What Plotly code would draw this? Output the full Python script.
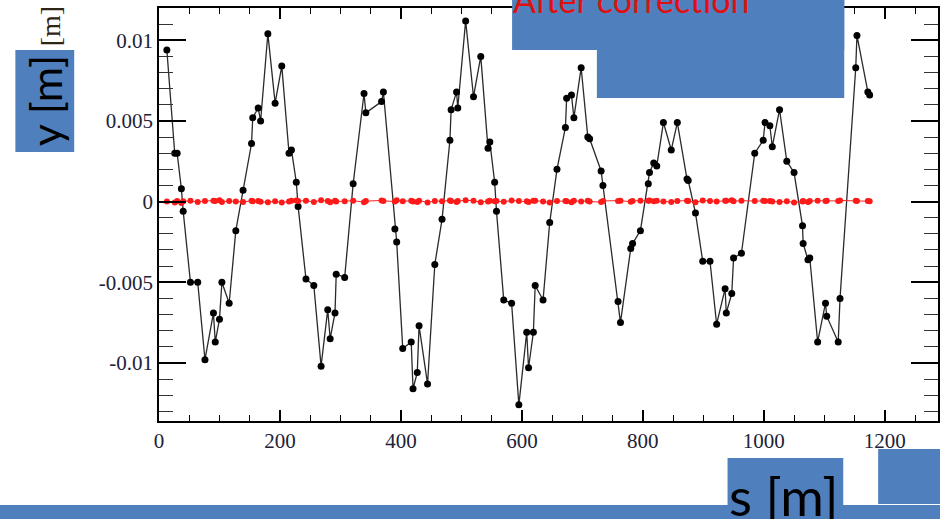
import plotly.graph_objects as go

# BPM positions along the ring [m]
s_pos = [13, 26, 30, 37, 40, 52, 64, 76, 90, 93,
         100, 104, 116, 127, 139, 153, 155, 164, 168, 180,
         192, 203, 215, 219, 227, 230, 243, 256, 268, 279,
         283, 291, 293, 307, 321, 339, 342, 368, 371, 390,
         393, 403, 417, 420, 427, 430, 444, 456, 468, 481,
         483, 492, 494, 507, 520, 532, 544, 547, 555, 558,
         570, 583, 595, 608, 611, 619, 622, 635, 646, 658,
         672, 674, 682, 686, 698, 709, 712, 731, 734, 759,
         763, 780, 783, 796, 809, 811, 818, 823, 834, 847,
         857, 873, 875, 887, 899, 911, 922, 936, 938, 947,
         950, 963, 985, 999, 1002, 1010, 1014, 1026, 1038, 1050,
         1064, 1065, 1073, 1076, 1089, 1102, 1104, 1123, 1126, 1152,
         1154, 1172, 1175]

# vertical orbit before correction [m]
y_before = [0.0094, 0.0030, 0.0030, 0.0008, -0.0006, -0.0050, -0.0050, -0.0098, -0.0069, -0.0087,
            -0.0073, -0.0050, -0.0063, -0.0018, 0.0007, 0.0036, 0.0052, 0.0058, 0.0050, 0.0104,
            0.0061, 0.0084, 0.0030, 0.0032, 0.0012, -0.0003, -0.0048, -0.0052, -0.0102, -0.0067,
            -0.0085, -0.0069, -0.0045, -0.0047, 0.0011, 0.0067, 0.0055, 0.0062, 0.0068, -0.0017,
            -0.0025, -0.0091, -0.0087, -0.0116, -0.0106, -0.0077, -0.0113, -0.0039, -0.0011, 0.0038,
            0.0057, 0.0068, 0.0058, 0.0112, 0.0065, 0.0090, 0.0033, 0.0037, 0.0012, -0.0006,
            -0.0061, -0.0063, -0.0126, -0.0081, -0.0103, -0.0081, -0.0052, -0.0061, -0.0013, 0.0020,
            0.0046, 0.0064, 0.0066, 0.0052, 0.0083, 0.0040, 0.0039, 0.0019, 0.0010, -0.0062,
            -0.0075, -0.0029, -0.0026, -0.0018, 0.0011, 0.0018, 0.0024, 0.0022, 0.0049, 0.0032,
            0.0049, 0.0014, 0.0013, -0.0007, -0.0037, -0.0037, -0.0076, -0.0054, -0.0069, -0.0057,
            -0.0035, -0.0032, 0.0030, 0.0038, 0.0049, 0.0047, 0.0034, 0.0057, 0.0025, 0.0018,
            -0.0015, -0.0026, -0.0036, -0.0035, -0.0087, -0.0063, -0.0071, -0.0087, -0.0060, 0.0083,
            0.0103, 0.0068, 0.0066]

# vertical orbit after correction [m]
y_after = [0.00000, -0.00005, 0.00003, -0.00008, 0.00002, 0.00005, -0.00002, 0.00004, 0.00006, 0.00003,
           0.00008, -0.00002, 0.00004, 0.00000, -0.00003, 0.00006, 0.00002, 0.00004, -0.00001, -0.00004,
           0.00002, -0.00006, 0.00000, 0.00005, 0.00007, 0.00003, 0.00006, -0.00002, 0.00008, 0.00003,
           -0.00004, 0.00005, 0.00001, 0.00002, 0.00006, -0.00004, 0.00003, 0.00007, 0.00004, 0.00001,
           0.00009, 0.00002, 0.00005, 0.00000, -0.00003, 0.00006, -0.00005, 0.00004, 0.00002, 0.00007,
           0.00004, -0.00002, 0.00003, 0.00008, 0.00005, -0.00004, 0.00001, 0.00006, 0.00002, 0.00003,
           -0.00001, 0.00007, 0.00004, 0.00002, -0.00003, 0.00005, 0.00006, 0.00001, -0.00006, 0.00003,
           0.00004, 0.00002, -0.00004, 0.00006, 0.00001, 0.00005, 0.00000, -0.00003, 0.00004, 0.00003,
           0.00006, -0.00001, 0.00004, 0.00006, 0.00005, 0.00007, 0.00002, 0.00005, 0.00001, -0.00002,
           0.00004, 0.00006, 0.00003, -0.00004, 0.00007, 0.00004, 0.00001, 0.00005, 0.00006, 0.00008,
           0.00002, 0.00006, 0.00003, 0.00006, 0.00004, 0.00003, 0.00001, -0.00003, 0.00002, -0.00005,
           0.00001, 0.00003, -0.00002, 0.00004, 0.00005, 0.00003, 0.00006, 0.00004, 0.00007, 0.00005,
           0.00004, 0.00003, 0.00002]

x_ticks = [0, 200, 400, 600, 800, 1000, 1200]
y_ticks = [-0.01, -0.005, 0, 0.005, 0.01]
y_tick_text = ["-0.01", "-0.005", "0", "0.005", "0.01"]

W, H = 940, 519
L, R, T, B = 159, 940, 8, 421
BLUE = "#4F7FBC"


def fx(p):
    return (p - L) / (R - L)


def fy(p):
    return (B - p) / (B - T)


fig = go.Figure()
fig.add_trace(go.Scatter(
    x=s_pos, y=y_before, mode="lines+markers",
    line=dict(color="#2a2a2a", width=1.3),
    marker=dict(color="black", size=7),
    cliponaxis=False, showlegend=False))
fig.add_trace(go.Scatter(
    x=s_pos, y=y_after, mode="lines+markers",
    line=dict(color="#ff2020", width=1),
    marker=dict(color="#ff1a1a", size=6),
    showlegend=False))

tick_font = dict(family="Liberation Serif", size=21, color="#1d2238")
fig.update_xaxes(
    range=[0, 1288], tickvals=x_ticks, ticks="inside", ticklen=11, tickwidth=1.5,
    tickcolor="black", showline=True, linecolor="black", linewidth=1.5, mirror="ticks",
    showgrid=False, zeroline=False, tickfont=tick_font,
    minor=dict(dtick=50, tick0=0, ticks="inside", ticklen=6, tickwidth=1.2, tickcolor="black"))
fig.update_yaxes(
    range=[-0.0136, 0.0120], tickvals=y_ticks, ticktext=y_tick_text, ticks="inside",
    ticklen=27, tickwidth=1.5, tickcolor="black", showline=True, linecolor="black",
    linewidth=1.5, mirror="ticks", showgrid=False, zeroline=False, tickfont=tick_font,
    minor=dict(dtick=0.001, tick0=0, ticks="inside", ticklen=14, tickwidth=1.2,
               tickcolor="#333333"))

# slide overlay boxes
boxes = [
    (15, 50, 74, 152),
    (513, -2, 846, 50),
    (598, -2, 846, 98),
    (729, 458, 845, 521),
    (880, 449, 942, 504),
    (-2, 505, 942, 521),
]
for x0, y0, x1, y1 in boxes:
    fig.add_shape(type="rect", xref="paper", yref="paper",
                  x0=fx(x0), x1=fx(x1), y0=fy(y1), y1=fy(y0),
                  fillcolor=BLUE, line=dict(width=0), layer="above")

fig.add_annotation(text="[m]", xref="paper", yref="paper", x=fx(50), y=fy(26),
                   xanchor="center", yanchor="middle", textangle=-90, showarrow=False,
                   font=dict(family="Liberation Serif", size=28, color="#2e2418"))
fig.add_annotation(text="y [m]", xref="paper", yref="paper", x=fx(45), y=fy(101),
                   xanchor="center", yanchor="middle", textangle=-90, showarrow=False,
                   font=dict(family="Lato", size=43, color="black"))
fig.add_annotation(text="After correction", xref="paper", yref="paper", x=fx(513), y=fy(21),
                   xanchor="left", yanchor="bottom", showarrow=False, borderpad=0,
                   font=dict(family="Lato", size=34, color="#e01010"))
fig.add_annotation(text="s [m]", xref="paper", yref="paper", x=fx(786), y=fy(463),
                   xanchor="center", yanchor="top", showarrow=False, borderpad=0,
                   font=dict(family="Lato", size=53, color="black"))

fig.update_layout(
    width=W, height=H, margin=dict(l=L, r=W - R, t=T, b=H - B),
    plot_bgcolor="white", paper_bgcolor="white")

fig.write_html("out.html")
